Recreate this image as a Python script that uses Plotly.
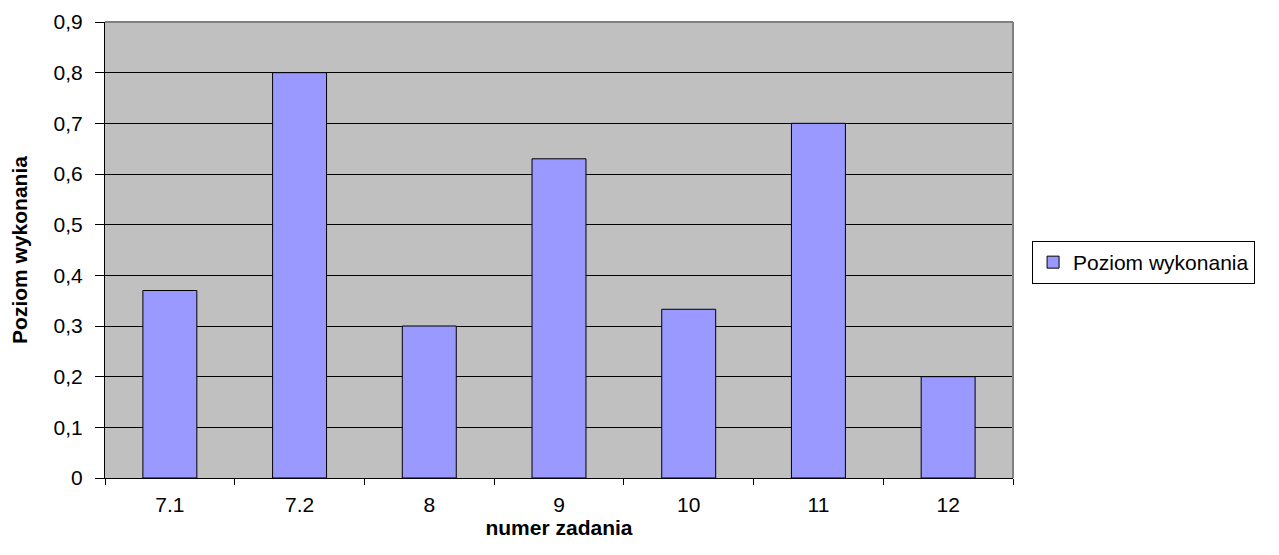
import plotly.graph_objects as go

categories = ["7.1", "7.2", "8", "9", "10", "11", "12"]
values = [0.37, 0.80, 0.30, 0.63, 0.333, 0.70, 0.20]
series_name = "Poziom wykonania"

font = "Liberation Sans, Arial, sans-serif"
fs = 21

fig = go.Figure()
fig.add_trace(go.Bar(
    x=categories, y=values, name=series_name,
    marker=dict(color="#9999FF", line=dict(color="black", width=1)),
    showlegend=True,
))

fig.update_layout(
    width=1279, height=555,
    margin=dict(l=97, r=274, t=14, b=85, autoexpand=False),
    paper_bgcolor="white", plot_bgcolor="#C0C0C0",
    separators=", ",
    bargap=0.584,
    font=dict(family=font, size=fs, color="black"),
    showlegend=True,
    legend=dict(x=1.021, y=0.4726, xanchor="left", yanchor="middle",
                bordercolor="black", borderwidth=1, bgcolor="white",
                font=dict(size=fs), itemwidth=30, tracegroupgap=0),
    xaxis=dict(
        type="category", showgrid=False, showline=True, linecolor="black", linewidth=1,
        ticks="outside", tickson="boundaries", ticklen=6, tickcolor="black",
        ticklabelstandoff=8, automargin=False,
        title=dict(text="<b>numer zadania</b>", standoff=4, font=dict(size=fs)),
        tickfont=dict(size=fs),
    ),
    yaxis=dict(
        range=[0, 0.9], dtick=0.1, tick0=0, showgrid=True, gridcolor="black", gridwidth=1,
        showline=True, linecolor="black", linewidth=1, zeroline=False,
        ticks="outside", ticklen=9, tickcolor="black",
        ticklabelstandoff=8, automargin=False,
        title=dict(text="<b>Poziom wykonania</b>", standoff=20, font=dict(size=fs)),
        tickfont=dict(size=fs),
    ),
    shapes=[
        dict(type="line", xref="paper", yref="paper", x0=0, x1=1, y0=1, y1=1,
             line=dict(color="#808080", width=2)),
        dict(type="line", xref="paper", yref="paper", x0=1, x1=1, y0=0, y1=1,
             line=dict(color="#808080", width=2)),
    ],
)

fig.write_html("out.html")
